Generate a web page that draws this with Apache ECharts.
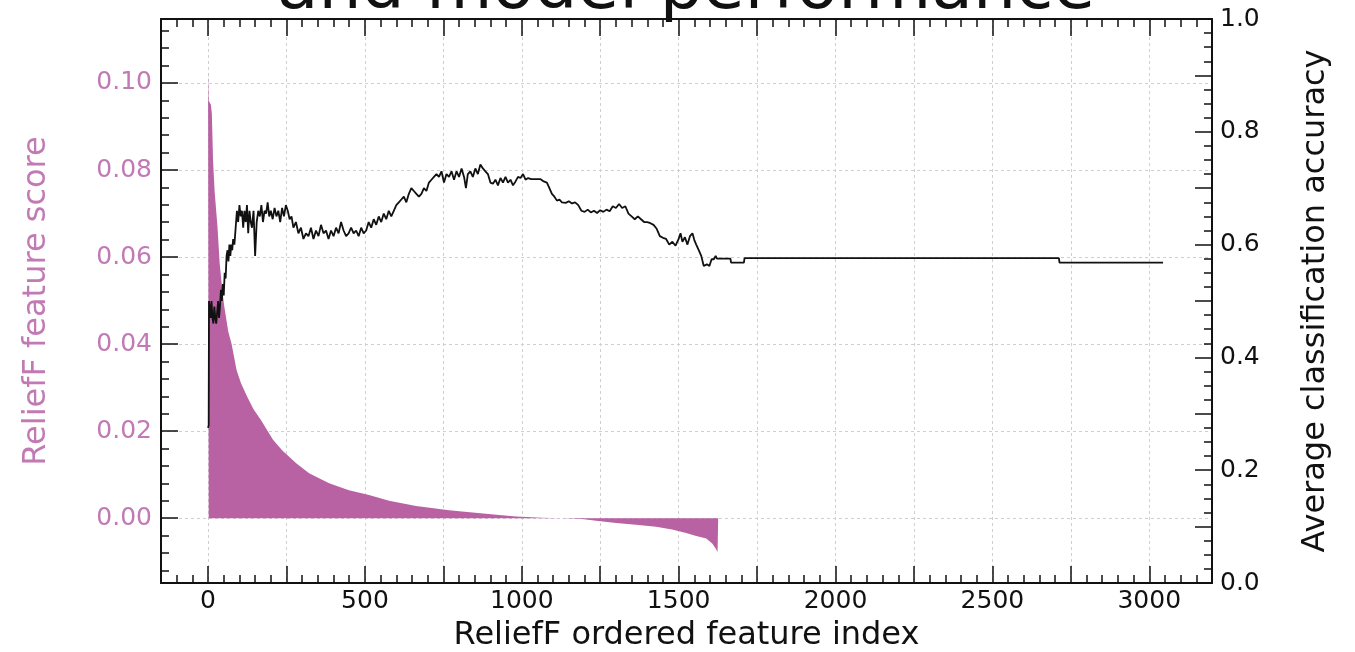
<!DOCTYPE html>
<html>
<head>
<meta charset="utf-8">
<script src="https://cdn.jsdelivr.net/npm/echarts@6/dist/echarts.min.js"></script>
<style>
  html, body { margin: 0; padding: 0; background: #fff; }
  #chart { width: 1355px; height: 652px; }
</style>
</head>
<body>
<div id="chart"></div>
<script>
// ReliefF score of each ordered feature
const featureIndex = [0, 1, 2, 9, 12, 16, 21, 30, 37, 46, 51, 64, 75, 91, 105, 124, 145, 169, 207, 236, 281, 322, 386, 449, 513, 577, 663, 768, 860, 928, 982, 1062, 1125, 1192, 1237, 1301, 1364, 1428, 1479, 1524, 1556, 1588, 1607, 1618, 1624, 1626]
const featureScore = [0.103, 0.103, 0.096, 0.095, 0.093, 0.082, 0.075, 0.067, 0.0586, 0.052, 0.049, 0.043, 0.040, 0.034, 0.031, 0.028, 0.025, 0.0225, 0.018, 0.0156, 0.0126, 0.0103, 0.0080, 0.0064, 0.0053, 0.0040, 0.0028, 0.0018, 0.0012, 0.0007, 0.0004, 0.0001, 0.0, -0.0002, -0.0006, -0.0011, -0.0015, -0.0020, -0.0026, -0.0034, -0.0041, -0.0047, -0.0058, -0.0070, -0.0078, -0.0078]

// average accuracy vs number of features kept [index, accuracy]
const accuracyPoints = [
  [0, 0.275], [2, 0.28], [3, 0.50], [5, 0.49], [8, 0.47], [11, 0.50], [14, 0.47], [17, 0.46], [20, 0.49], [23, 0.47],
  [26, 0.46], [29, 0.48], [32, 0.50], [35, 0.47], [38, 0.49], [41, 0.52], [44, 0.50], [47, 0.53], [50, 0.51], [53, 0.55],
  [56, 0.54], [59, 0.58], [62, 0.59], [65, 0.57], [68, 0.60], [71, 0.58], [74, 0.60], [77, 0.59], [80, 0.61], [84, 0.60],
  [88, 0.63], [92, 0.66], [96, 0.64], [100, 0.67], [104, 0.65], [108, 0.66], [112, 0.63], [116, 0.66], [120, 0.64], [124, 0.67],
  [128, 0.62], [132, 0.66], [136, 0.64], [140, 0.63], [145, 0.66], [150, 0.58], [155, 0.64], [160, 0.66], [165, 0.65], [170, 0.67],
  [175, 0.64], [180, 0.66], [185, 0.655], [190, 0.675], [195, 0.65], [200, 0.66], [206, 0.645], [212, 0.665], [218, 0.65], [224, 0.66],
  [230, 0.64], [236, 0.665], [242, 0.65], [248, 0.67], [254, 0.66], [260, 0.645], [266, 0.65], [272, 0.63], [280, 0.64], [288, 0.62],
  [296, 0.63], [304, 0.61], [312, 0.62], [320, 0.615], [328, 0.63], [336, 0.61], [344, 0.625], [352, 0.615], [360, 0.635], [368, 0.62],
  [376, 0.625], [384, 0.61], [392, 0.625], [400, 0.615], [408, 0.63], [416, 0.62], [424, 0.64], [432, 0.625], [440, 0.615], [448, 0.62],
  [456, 0.63], [464, 0.62], [472, 0.625], [480, 0.615], [488, 0.63], [496, 0.62], [504, 0.625], [512, 0.64], [520, 0.63], [528, 0.645],
  [536, 0.635], [544, 0.65], [552, 0.64], [560, 0.655], [568, 0.645], [576, 0.66], [584, 0.65], [592, 0.66], [600, 0.67], [608, 0.675],
  [616, 0.68], [624, 0.685], [632, 0.675], [640, 0.69], [648, 0.70], [656, 0.695], [664, 0.69], [672, 0.685], [680, 0.69], [688, 0.70],
  [696, 0.695], [704, 0.71], [712, 0.715], [720, 0.72], [728, 0.725], [736, 0.72], [744, 0.73], [752, 0.71], [760, 0.725], [768, 0.72],
  [776, 0.73], [784, 0.715], [792, 0.73], [800, 0.72], [808, 0.735], [816, 0.72], [822, 0.70], [828, 0.725], [836, 0.73], [844, 0.72],
  [852, 0.735], [860, 0.725], [868, 0.742], [876, 0.735], [884, 0.73], [892, 0.725], [900, 0.71], [908, 0.708], [916, 0.715], [924, 0.705],
  [932, 0.718], [940, 0.71], [948, 0.72], [956, 0.71], [964, 0.715], [972, 0.705], [980, 0.712], [988, 0.72], [996, 0.718], [1004, 0.725],
  [1012, 0.715], [1020, 0.718], [1030, 0.716], [1040, 0.716], [1050, 0.716], [1060, 0.716], [1070, 0.712], [1080, 0.71], [1088, 0.70], [1096, 0.69],
  [1104, 0.685], [1112, 0.678], [1120, 0.68], [1128, 0.675], [1140, 0.674], [1150, 0.677], [1160, 0.673], [1170, 0.675], [1180, 0.67], [1190, 0.66],
  [1200, 0.658], [1210, 0.662], [1220, 0.657], [1230, 0.66], [1240, 0.656], [1250, 0.661], [1260, 0.658], [1270, 0.662], [1280, 0.659], [1290, 0.668],
  [1300, 0.665], [1310, 0.672], [1320, 0.665], [1330, 0.668], [1340, 0.655], [1350, 0.65], [1360, 0.645], [1370, 0.65], [1380, 0.645], [1390, 0.64],
  [1400, 0.64], [1410, 0.638], [1420, 0.635], [1430, 0.628], [1440, 0.615], [1450, 0.612], [1460, 0.61], [1470, 0.60], [1480, 0.605], [1490, 0.598],
  [1500, 0.61], [1506, 0.62], [1512, 0.605], [1520, 0.613], [1528, 0.60], [1536, 0.615], [1544, 0.62], [1550, 0.608], [1556, 0.60], [1564, 0.59],
  [1572, 0.58], [1580, 0.562], [1590, 0.565], [1598, 0.562], [1605, 0.574], [1612, 0.574], [1618, 0.58], [1622, 0.575], [1665, 0.575], [1667, 0.568],
  [1708, 0.568], [1710, 0.576], [2712, 0.576], [2714, 0.568], [3044, 0.568]
]

const xTickValues = [0, 250, 500, 750, 1000, 1250, 1500, 1750, 2000, 2250, 2500, 2750, 3000]
const xLabelValues = [0, 500, 1000, 1500, 2000, 2500, 3000]
const scoreTicks = [0, 0.02, 0.04, 0.06, 0.08, 0.10]

const font = 'DejaVu Sans'
const ink = '#111'
const pink = '#b862a4'
const pinkText = '#c27ab5'

const tickLine = { color: ink, width: 1.5 }
const gridLine = { show: true, lineStyle: { color: '#cfcfcf', width: 1, type: [3, 3] } }

// shared look of bottom / top x axes
function xAxisBase (position) {
  return {
    type: 'value',
    position: position,
    min: -150,
    max: 3200,
    splitNumber: 6,
    axisLine: { show: true, onZero: false, lineStyle: { color: ink, width: 2 } },
    axisTick: { show: true, inside: true, length: 17, customValues: xTickValues, lineStyle: tickLine },
    minorTick: { show: true, splitNumber: 10, length: 8, lineStyle: tickLine }
  }
}

const chart = echarts.init(document.getElementById('chart'))
chart.setOption({
  animation: false,
  graphic: [
    {
      type: 'text',
      x: 686,
      y: -10,
      style: {
        text: 'and model performance',
        fontSize: 68,
        fontFamily: font,
        fill: ink,
        align: 'center',
        verticalAlign: 'middle'
      }
    }
  ],
  grid: { left: 161, right: 143, top: 19, bottom: 69, outerBoundsMode: 'none', containLabel: false },
  xAxis: [
    Object.assign(xAxisBase('bottom'), {
      name: 'ReliefF ordered feature index',
      nameLocation: 'middle',
      nameGap: 37,
      nameTextStyle: { fontSize: 32, fontFamily: font, color: ink },
      axisLabel: {
        customValues: xLabelValues,
        margin: 6,
        fontSize: 25,
        fontFamily: font,
        color: ink,
        formatter: v => String(v)
      },
      splitLine: gridLine
    }),
    Object.assign(xAxisBase('top'), {
      axisLabel: { show: false },
      splitLine: { show: false }
    })
  ],
  yAxis: [
    {
      type: 'value',
      position: 'left',
      min: -0.0149,
      max: 0.1147,
      splitNumber: 6,
      name: 'ReliefF feature score',
      nameLocation: 'middle',
      nameGap: 108,
      nameRotate: 90,
      nameTextStyle: { fontSize: 32, fontFamily: font, color: pinkText },
      axisLine: { show: true, onZero: false, lineStyle: { color: ink, width: 2 } },
      axisTick: { show: true, inside: true, length: 17, customValues: scoreTicks, lineStyle: tickLine },
      minorTick: { show: true, splitNumber: 5, length: 8, lineStyle: tickLine },
      axisLabel: {
        customValues: scoreTicks,
        margin: 9,
        fontSize: 25,
        fontFamily: font,
        color: pinkText,
        formatter: v => v.toFixed(2)
      },
      splitLine: gridLine
    },
    {
      type: 'value',
      position: 'right',
      min: 0,
      max: 1,
      interval: 0.1,
      name: 'Average classification accuracy',
      nameLocation: 'middle',
      nameGap: 88,
      nameRotate: 90,
      nameTextStyle: { fontSize: 32, fontFamily: font, color: ink },
      axisLine: { show: true, onZero: false, lineStyle: { color: ink, width: 2 } },
      axisTick: { show: true, inside: true, length: 17, lineStyle: tickLine },
      minorTick: { show: true, splitNumber: 4, length: 8, lineStyle: tickLine },
      axisLabel: {
        margin: 8,
        fontSize: 25,
        fontFamily: font,
        color: ink,
        // 只标注 0.2 的倍数
        formatter: v => (Math.round(v * 10) % 2 === 0 ? v.toFixed(1) : '')
      },
      splitLine: { show: false }
    }
  ],
  series: [
    {
      name: 'ReliefF score',
      type: 'line',
      xAxisIndex: 0,
      yAxisIndex: 0,
      data: featureIndex.map((x, i) => [x, featureScore[i]]),
      symbol: 'none',
      lineStyle: { width: 0, opacity: 0 },
      areaStyle: { color: pink, opacity: 1 },
      z: 2
    },
    {
      name: 'Accuracy',
      type: 'line',
      xAxisIndex: 0,
      yAxisIndex: 1,
      data: accuracyPoints,
      symbol: 'none',
      lineStyle: { color: ink, width: 1.8 },
      z: 3
    }
  ]
})
</script>
</body>
</html>
